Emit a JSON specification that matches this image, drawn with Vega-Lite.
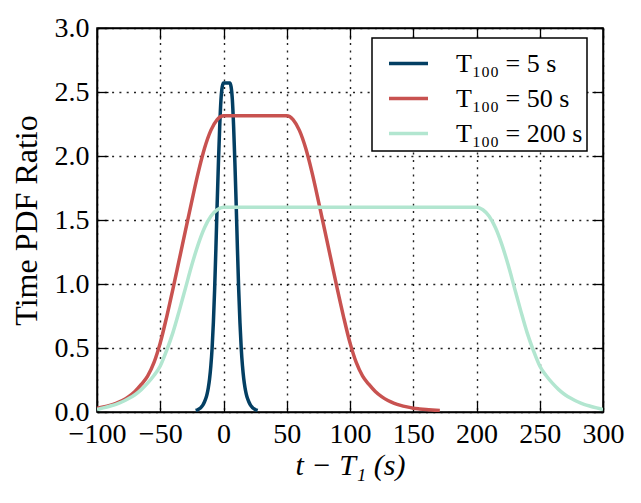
{
  "$schema": "https://vega.github.io/schema/vega-lite/v6.json",
  "width": 506,
  "height": 384,
  "autosize": "none",
  "padding": {"left": 97, "top": 28, "right": 38, "bottom": 91},
  "background": "white",
  "data": {
    "values": [
      {"k": "5", "t": -22, "r": 0.012}, {"k": "5", "t": -20, "r": 0.02}, {"k": "5", "t": -19, "r": 0.026},
      {"k": "5", "t": -18, "r": 0.034}, {"k": "5", "t": -17, "r": 0.045}, {"k": "5", "t": -16, "r": 0.06},
      {"k": "5", "t": -15, "r": 0.08}, {"k": "5", "t": -14, "r": 0.105}, {"k": "5", "t": -13, "r": 0.14},
      {"k": "5", "t": -12, "r": 0.19}, {"k": "5", "t": -11, "r": 0.26}, {"k": "5", "t": -10, "r": 0.36},
      {"k": "5", "t": -9, "r": 0.5}, {"k": "5", "t": -8, "r": 0.7}, {"k": "5", "t": -7, "r": 0.96},
      {"k": "5", "t": -6, "r": 1.28}, {"k": "5", "t": -5, "r": 1.63}, {"k": "5", "t": -4, "r": 1.95},
      {"k": "5", "t": -3, "r": 2.23}, {"k": "5", "t": -2, "r": 2.44}, {"k": "5", "t": -1, "r": 2.54},
      {"k": "5", "t": 0, "r": 2.57}, {"k": "5", "t": 2.5, "r": 2.57}, {"k": "5", "t": 5, "r": 2.57},
      {"k": "5", "t": 6, "r": 2.54}, {"k": "5", "t": 7, "r": 2.44}, {"k": "5", "t": 8, "r": 2.23},
      {"k": "5", "t": 9, "r": 1.95}, {"k": "5", "t": 10, "r": 1.63}, {"k": "5", "t": 11, "r": 1.28},
      {"k": "5", "t": 12, "r": 0.96}, {"k": "5", "t": 13, "r": 0.7}, {"k": "5", "t": 14, "r": 0.5},
      {"k": "5", "t": 15, "r": 0.36}, {"k": "5", "t": 16, "r": 0.26}, {"k": "5", "t": 17, "r": 0.19},
      {"k": "5", "t": 18, "r": 0.14}, {"k": "5", "t": 19, "r": 0.105}, {"k": "5", "t": 20, "r": 0.08},
      {"k": "5", "t": 21, "r": 0.06}, {"k": "5", "t": 22, "r": 0.045}, {"k": "5", "t": 23, "r": 0.034},
      {"k": "5", "t": 24, "r": 0.026}, {"k": "5", "t": 25, "r": 0.02}, {"k": "5", "t": 27, "r": 0.012},

      {"k": "50", "t": -100, "r": 0.03}, {"k": "50", "t": -95, "r": 0.04}, {"k": "50", "t": -90, "r": 0.052},
      {"k": "50", "t": -85, "r": 0.068}, {"k": "50", "t": -80, "r": 0.09}, {"k": "50", "t": -75, "r": 0.12},
      {"k": "50", "t": -70, "r": 0.16}, {"k": "50", "t": -65, "r": 0.215}, {"k": "50", "t": -60, "r": 0.28},
      {"k": "50", "t": -55, "r": 0.385}, {"k": "50", "t": -50, "r": 0.54}, {"k": "50", "t": -45, "r": 0.74},
      {"k": "50", "t": -40, "r": 0.96}, {"k": "50", "t": -35, "r": 1.19}, {"k": "50", "t": -30, "r": 1.42},
      {"k": "50", "t": -25, "r": 1.65}, {"k": "50", "t": -20, "r": 1.87}, {"k": "50", "t": -15, "r": 2.06},
      {"k": "50", "t": -10, "r": 2.2}, {"k": "50", "t": -5, "r": 2.285}, {"k": "50", "t": 0, "r": 2.315},
      {"k": "50", "t": 25, "r": 2.315}, {"k": "50", "t": 50, "r": 2.315}, {"k": "50", "t": 55, "r": 2.285},
      {"k": "50", "t": 60, "r": 2.2}, {"k": "50", "t": 65, "r": 2.06}, {"k": "50", "t": 70, "r": 1.87},
      {"k": "50", "t": 75, "r": 1.65}, {"k": "50", "t": 80, "r": 1.42}, {"k": "50", "t": 85, "r": 1.19},
      {"k": "50", "t": 90, "r": 0.96}, {"k": "50", "t": 95, "r": 0.74}, {"k": "50", "t": 100, "r": 0.54},
      {"k": "50", "t": 105, "r": 0.385}, {"k": "50", "t": 110, "r": 0.28}, {"k": "50", "t": 115, "r": 0.215},
      {"k": "50", "t": 120, "r": 0.16}, {"k": "50", "t": 125, "r": 0.12}, {"k": "50", "t": 130, "r": 0.09},
      {"k": "50", "t": 135, "r": 0.068}, {"k": "50", "t": 140, "r": 0.052}, {"k": "50", "t": 145, "r": 0.04},
      {"k": "50", "t": 150, "r": 0.03}, {"k": "50", "t": 155, "r": 0.024}, {"k": "50", "t": 160, "r": 0.019},
      {"k": "50", "t": 165, "r": 0.015}, {"k": "50", "t": 171, "r": 0.011},

      {"k": "200", "t": -100, "r": 0.02}, {"k": "200", "t": -95, "r": 0.032}, {"k": "200", "t": -90, "r": 0.045},
      {"k": "200", "t": -85, "r": 0.06}, {"k": "200", "t": -80, "r": 0.08}, {"k": "200", "t": -75, "r": 0.105},
      {"k": "200", "t": -70, "r": 0.135}, {"k": "200", "t": -65, "r": 0.175}, {"k": "200", "t": -60, "r": 0.225},
      {"k": "200", "t": -55, "r": 0.285}, {"k": "200", "t": -50, "r": 0.36}, {"k": "200", "t": -45, "r": 0.48},
      {"k": "200", "t": -40, "r": 0.62}, {"k": "200", "t": -35, "r": 0.79}, {"k": "200", "t": -30, "r": 0.97},
      {"k": "200", "t": -25, "r": 1.15}, {"k": "200", "t": -20, "r": 1.31}, {"k": "200", "t": -15, "r": 1.44},
      {"k": "200", "t": -10, "r": 1.53}, {"k": "200", "t": -5, "r": 1.58}, {"k": "200", "t": 0, "r": 1.6},
      {"k": "200", "t": 100, "r": 1.6}, {"k": "200", "t": 200, "r": 1.6}, {"k": "200", "t": 205, "r": 1.58},
      {"k": "200", "t": 210, "r": 1.53}, {"k": "200", "t": 215, "r": 1.44}, {"k": "200", "t": 220, "r": 1.31},
      {"k": "200", "t": 225, "r": 1.15}, {"k": "200", "t": 230, "r": 0.97}, {"k": "200", "t": 235, "r": 0.79},
      {"k": "200", "t": 240, "r": 0.62}, {"k": "200", "t": 245, "r": 0.48}, {"k": "200", "t": 250, "r": 0.36},
      {"k": "200", "t": 255, "r": 0.285}, {"k": "200", "t": 260, "r": 0.225}, {"k": "200", "t": 265, "r": 0.175},
      {"k": "200", "t": 270, "r": 0.135}, {"k": "200", "t": 275, "r": 0.105}, {"k": "200", "t": 280, "r": 0.08},
      {"k": "200", "t": 285, "r": 0.06}, {"k": "200", "t": 290, "r": 0.045}, {"k": "200", "t": 295, "r": 0.032},
      {"k": "200", "t": 300, "r": 0.02}
    ]
  },
  "layer": [
    {
      "mark": {"type": "line", "interpolate": "monotone", "strokeWidth": 3.5, "clip": true, "strokeJoin": "round"},
      "encoding": {
        "x": {
          "field": "t", "type": "quantitative",
          "scale": {"domain": [-100, 300], "nice": false, "zero": false},
          "axis": {
            "orient": "bottom",
            "values": [-100, -50, 0, 50, 100, 150, 200, 250, 300],
            "title": "t − T₁ (s)",
            "titleFontStyle": "italic",
            "titleY": 62,
            "titleBaseline": "alphabetic",
            "grid": true
          }
        },
        "y": {
          "field": "r", "type": "quantitative",
          "scale": {"domain": [0, 3], "nice": false},
          "axis": {
            "orient": "left",
            "values": [0, 0.5, 1, 1.5, 2, 2.5, 3],
            "format": ".1f",
            "title": "Time PDF Ratio",
            "titleX": -61,
            "titleY": 192,
            "titleAngle": -90,
            "titleBaseline": "alphabetic",
            "titleFontSize": 32,
            "grid": true
          }
        },
        "color": {
          "field": "k", "type": "nominal",
          "scale": {"domain": ["5", "50", "200"], "range": ["#033f63", "#c85250", "#b2e6d0"]},
          "legend": {
            "orient": "none",
            "legendX": 275,
            "legendY": 10,
            "title": null,
            "labelExpr": "'T₁₀₀ = ' + datum.label + ' s'"
          }
        }
      }
    },
    {
      "mark": {"type": "line", "opacity": 0},
      "encoding": {
        "x": {
          "field": "t", "type": "quantitative",
          "axis": {"orient": "top", "values": [-100, -50, 0, 50, 100, 150, 200, 250, 300], "labels": false, "title": null, "grid": false}
        },
        "y": {
          "field": "r", "type": "quantitative",
          "axis": {"orient": "right", "values": [0, 0.5, 1, 1.5, 2, 2.5, 3], "labels": false, "title": null, "grid": false}
        }
      }
    }
  ],
  "resolve": {"axis": {"x": "independent", "y": "independent"}},
  "config": {
    "view": {"stroke": "black", "strokeWidth": 1.5},
    "axis": {
      "domain": true,
      "domainColor": "black",
      "domainWidth": 1.5,
      "tickColor": "black",
      "tickWidth": 1.3,
      "tickSize": -11,
      "labelFont": "Liberation Serif",
      "labelFontSize": 28,
      "labelColor": "black",
      "labelFlush": false,
      "labelOverlap": false,
      "labelBound": false,
      "titleFont": "Liberation Serif",
      "titleFontSize": 30,
      "titleFontWeight": "normal",
      "titleColor": "black",
      "gridColor": "#222222",
      "gridWidth": 1.4,
      "gridDash": [2, 5.3],
      "gridOpacity": 1
    },
    "axisX": {"labelPadding": 19},
    "axisY": {"labelPadding": 19},
    "legend": {
      "symbolType": "stroke",
      "symbolSize": 1521,
      "symbolStrokeWidth": 3.5,
      "symbolOffset": 11,
      "labelFont": "Liberation Serif",
      "labelFontSize": 26,
      "labelColor": "black",
      "labelOffset": 26,
      "rowPadding": 0,
      "padding": 4,
      "strokeColor": "black",
      "strokeWidth": 1.5,
      "fillColor": "white"
    }
  }
}
